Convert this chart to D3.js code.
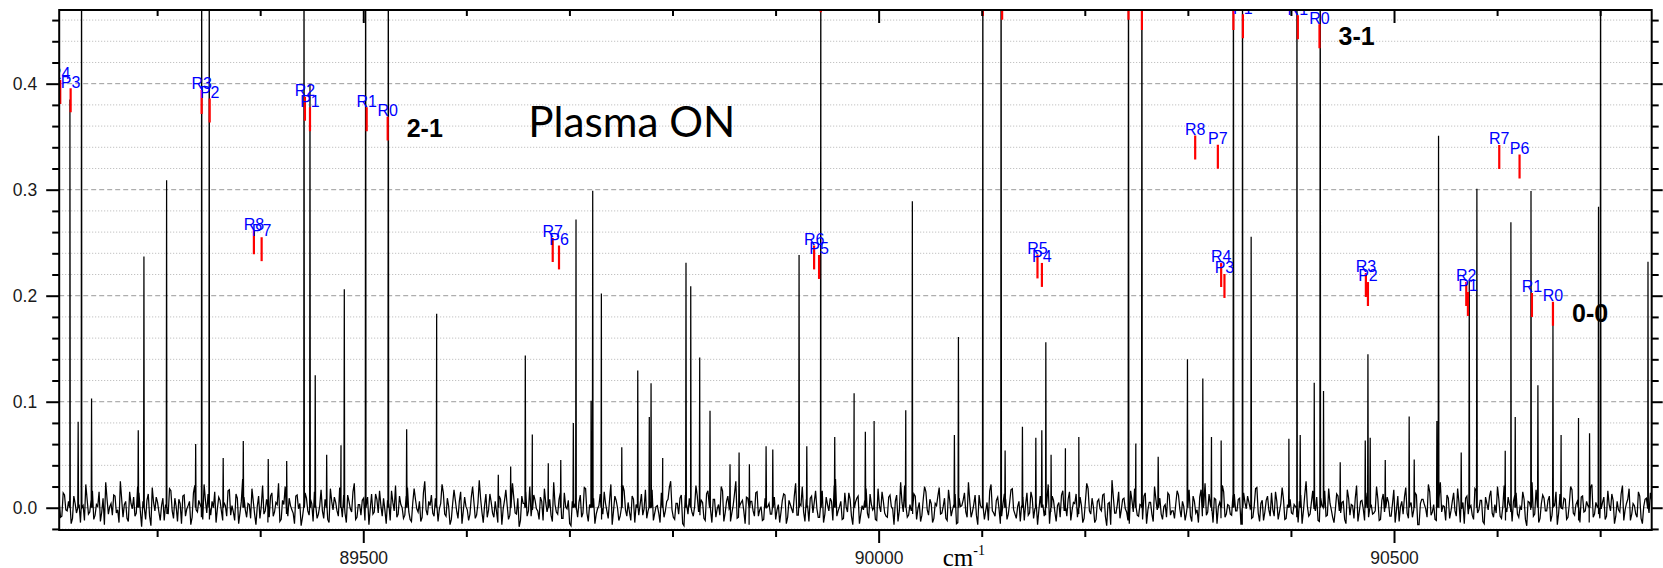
<!DOCTYPE html>
<html><head><meta charset="utf-8">
<script src="https://cdn.jsdelivr.net/npm/d3@7"></script>
<style>body{margin:0;background:#fff}svg{display:block}</style>
</head><body>
<svg id="chart" width="1663" height="568"></svg>
<script>
// ---------- data ----------
const xDomain = [89205, 90750];
const yDomain = [-0.021, 0.4695];
const xMajorTicks = [89500, 90000, 90500];
const xMinorTicks = [89300, 89400, 89600, 89700, 89800, 89900, 90100, 90200, 90300, 90400, 90600, 90700];
const yMajorTicks = [0.0, 0.1, 0.2, 0.3, 0.4];
const yMinorTicks = [-0.02, 0.02, 0.04, 0.06, 0.08, 0.12, 0.14, 0.16, 0.18, 0.22, 0.24, 0.26, 0.28, 0.32, 0.34, 0.36, 0.38, 0.42, 0.44, 0.46];

// spectral peaks: [wavenumber (cm-1), intensity]; 0.6 = off-scale (clipped at top)
const peaks = [
 [89215.4,0.385],[89223.4,0.081],[89226.7,0.6],[89236.4,0.103],[89281.7,0.073],[89287.2,0.237],
 [89309.2,0.309],[89337.4,0.060],[89343.2,0.6],[89350.6,0.6],[89364.1,0.047],[89383.6,0.063],
 [89407.8,0.046],[89425.7,0.044],[89442.5,0.6],[89448.3,0.40],[89453.4,0.125],[89464.5,0.050],
 [89478.4,0.059],[89481.6,0.206],[89502.3,0.6],[89524.3,0.6],[89542.1,0.074],[89571.2,0.183],
 [89631.0,0.031],[89643.0,0.039],[89657.2,0.1435],[89664.0,0.069],[89679.5,0.042],[89691.6,0.045],
 [89703.8,0.080],[89706.4,0.272],[89721.0,0.101],[89722.6,0.299],[89731.0,0.202],[89750.8,0.057],
 [89766.3,0.1295],[89777.5,0.0856],[89779.2,0.1175],[89790.5,0.047],[89813.1,0.231],[89817.7,0.209],
 [89826.4,0.1416],[89836.4,0.0914],[89855.8,0.041],[89864.6,0.052],[89874.6,0.041],[89890.8,0.058],
 [89897.3,0.055],[89922.8,0.2385],[89930.3,0.058],[89943.9,0.6],[89957.4,0.0667],[89976.2,0.108],
 [89987.1,0.0716],[89995.6,0.0817],[90026.3,0.092],[90032.7,0.289],[90073.5,0.0687],[90077.4,0.161],
 [90101.1,0.6],[90118.8,0.6],[90122.7,0.054],[90139.5,0.0765],[90152.5,0.066],[90158.3,0.073],
 [90162.2,0.156],[90167.3,0.050],[90181.2,0.056],[90194.2,0.0667],[90242.4,0.6],[90249.5,0.0605],
 [90255.4,0.6],[90271.2,0.048],[90299.6,0.140],[90314.5,0.122],[90322.9,0.0667],[90332.3,0.0635],
 [90344.2,0.6],[90353.0,0.6],[90361.4,0.2555],[90398.0,0.065],[90405.8,0.6],[90409.0,0.0687],
 [90422.6,0.118],[90428.4,0.6],[90431.6,0.110],[90447.8,0.043],[90472.1,0.0635],[90474.7,0.1448],
 [90476.9,0.066],[90491.5,0.045],[90514.7,0.086],[90519.6,0.0456],[90541.6,0.0817],[90543.2,0.351],
 [90565.2,0.052],[90573.0,0.214],[90580.4,0.301],[90607.9,0.0537],[90613.4,0.2694],[90617.6,0.0856],
 [90632.9,0.2987],[90639.6,0.1155],[90654.2,0.1734],[90662.1,0.0687],[90679.0,0.0846],[90689.7,0.0703],
 [90698.4,0.284],[90700.4,0.6],[90746.4,0.232]
];

// baseline noise, evenly sampled across the x range, in units of 0.001
const noise = [
 5,-8,12,-3,18,-10,4,9,-14,2,22,-6,7,-11,3,15,-4,-16,8,1,
 -7,11,-2,25,-9,6,-13,4,10,-5,14,-18,2,7,-8,19,-3,5,-12,9,
 3,-6,16,-10,1,8,-15,12,-1,6,-9,21,-4,3,-11,7,13,-7,0,-14,
 10,-3,5,-8,17,2,-12,9,-5,27,-2,4,-10,6,-16,11,1,-6,8,-9,
 14,-4,3,-13,7,20,-8,2,-5,11,-1,-17,6,9,-7,4,15,-10,2,-3,
 8,-11,18,-2,5,-8,1,12,-14,6,-4,23,-9,3,7,-12,10,-1,-6,13,
 -5,2,9,-15,4,16,-3,-9,11,0,-7,19,-11,5,8,-4,-13,14,-2,6,
 12,-8,3,-1,22,-6,9,-16,4,7,-10,15,-3,1,-12,10,5,-7,26,-4,
 2,-9,13,-5,6,-14,8,-1,17,-11,3,9,-6,-18,11,4,-8,20,-2,7,
 -3,10,-12,5,1,-7,24,-4,8,-10,14,-1,-15,6,3,-9,12,-5,18,-13,
 4,9,-6,2,-11,15,-3,7,-16,11,0,-8,21,-2,5,-12,8,3,-7,13,
 -1,-10,6,17,-5,2,-14,10,-3,8,25,-9,4,-6,12,-17,3,9,-4,1,
 11,-7,5,-12,16,-2,8,-9,3,20,-13,6,-1,-5,13,-10,2,7,-15,9,
 6,-3,14,-8,1,-11,19,4,-6,10,-2,-14,7,12,-9,3,-5,23,-7,2,
 -4,8,-13,11,5,-1,-9,16,-6,3,9,-12,27,-3,6,-10,1,14,-8,4,
 9,-15,2,7,-5,13,-2,-11,18,-4,6,-8,10,1,-16,12,-3,5,21,-9,
 3,-6,11,-1,-13,8,15,-7,4,-10,2,19,-5,9,-12,6,-2,13,-14,1,
 7,-4,24,-9,3,-7,12,0,-11,5,16,-3,-8,10,-15,4,8,-6,17,-2,
 -10,6,2,-12,14,-5,9,-1,-16,11,3,-7,22,-4,7,-13,5,12,-3,-8,
 15,-2,4,-9,10,-14,6,18,-6,1,-11,8,-3,13,-17,5,26,-5,3,-10,
 8,-1,-12,16,-4,7,-8,2,11,-15,5,-6,20,-2,9,-11,3,14,-7,-3,
 4,12,-9,1,-5,17,-13,6,-2,10,-8,23,-4,3,-14,8,1,-10,15,-6,
 2,-7,13,-3,9,-16,5,11,-1,-9,18,-5,4,-12,7,-2,14,-8,6,-4,
 19,-11,3,8,-6,1,-14,12,-3,25,-8,5,-1,10,-13,2,16,-7,4,-9,
 -2,11,-5,6,-15,9,3,-10,21,-4,7,-12,1,15,-6,-3,8,-11,13,0,
 5,-8,17,-2,-13,6,10,-5,2,-9,14,-16,4,8,-1,22,-7,3,-12,9,
 -4,1,12,-10,6,-3,18,-14,5,9,-6,2,-11,16,-2,7,-15,4,11,-5,
 3,20,-8,1,-12,10,-4,6,14,-9,-2,8,-17,5,24,-6,2,-10,12,-3,
 7,-13,4,15,-5,-1,9,-11,3,17,-7,6,-14,11,-3,2,19,-9,5,-6,
 -1,10,-8,3,13,-15,6,-4,21,-2,8,-12,4,-6,15,-10,1,9,-5,7
];
// intermediate noise samples (half a step after each sample above), units of 0.001
const noiseMid = [
 -9,14,-2,6,-15,11,-5,3,19,-12,8,-4,16,-7,1,-13,9,24,-6,4,
 12,-5,-14,8,3,-10,15,-1,-8,20,-3,6,-11,13,-17,5,10,-4,2,-12,
 -6,18,-3,9,-13,4,11,-8,2,-16,14,-2,7,-9,22,-5,-11,6,15,-1,
 7,-12,2,16,-7,-4,13,-15,6,10,-9,3,18,-6,1,-10,21,-3,-14,11,
 -8,5,23,-11,3,-6,9,-2,-15,12,4,-9,14,-3,8,-13,2,-6,17,-10,
 4,-14,6,10,-3,19,-9,-5,12,-1,15,-11,3,-7,9,2,-16,13,-4,8,
 16,-8,-2,7,-12,5,21,-6,3,-10,11,-4,-13,18,-1,6,-9,25,-7,2,
 -5,9,-13,4,14,-8,1,-11,17,-3,6,-15,10,-2,-6,20,-10,4,9,-14,
 13,-2,5,-9,-4,11,-16,7,2,-7,23,-5,9,-12,4,15,-3,-8,12,-1,
 -11,6,18,-4,8,-13,3,-6,14,-10,1,7,-17,12,-2,5,-9,19,-5,3,
 10,-15,-1,13,-6,4,-10,22,-3,7,-12,2,16,-8,-4,11,-14,6,3,-7,
 17,-3,8,-12,1,-5,14,-9,6,19,-2,-11,4,9,-15,12,-6,2,-8,21,
 -4,7,-10,13,3,-14,8,-1,-7,16,-5,11,-13,2,25,-9,5,-3,10,-16,
 6,-8,15,-2,-12,9,1,-6,18,-11,3,-4,13,-15,7,-1,11,-7,4,20,
 -13,2,9,-5,16,-9,4,-14,10,-3,6,21,-8,1,-11,14,-4,8,-16,5,
 11,-6,-2,18,-10,3,7,-12,2,15,-5,-9,12,-1,6,-13,24,-4,9,-7,
 -3,13,-11,5,-7,20,-2,8,-14,4,11,-6,1,-10,17,-8,3,-15,9,2,
 14,-9,6,-4,12,-16,2,9,-3,-12,22,-5,7,-1,-8,13,-11,5,18,-6,
 1,-13,10,3,-7,15,-10,4,-2,19,-8,6,-15,11,-4,2,-9,16,-3,8,
 -12,5,13,-6,2,-10,23,-3,9,-14,6,-1,12,-8,4,-16,10,-5,15,-2,
 9,-4,-15,7,18,-7,3,-11,14,-2,5,-13,8,20,-6,1,-9,12,-3,-10,
 16,-1,6,-12,4,-8,11,-5,-14,17,2,-7,13,-3,9,-15,5,21,-9,3,
 -6,12,-3,8,-16,14,-1,5,-10,2,19,-13,7,-4,11,-8,-2,15,-11,4,
 8,-10,22,-5,3,-9,6,-15,12,1,-6,16,-3,-12,9,4,-8,18,-2,-14,
 13,-3,5,-11,17,-7,2,9,-13,6,-1,14,-9,3,-5,20,-12,7,-4,10,
 -8,4,-14,11,1,-6,19,-10,5,-2,12,-16,8,3,-9,15,-4,-11,6,24,
 2,-12,9,-3,14,-8,5,-1,-15,11,4,-7,18,-5,7,-13,10,-2,16,-9,
 -5,8,-10,21,-4,3,-13,12,-6,1,15,-11,6,-2,-8,17,-14,4,9,-3,
 11,-7,2,-16,13,-1,8,-9,20,-5,3,-12,10,-4,6,-14,22,-6,1,-10,
 5,-11,16,-3,7,-8,-2,13,-12,4,18,-6,2,-9,11,-15,8,-1,14,-4
];

// assigned rotational lines: name, position (cm-1), marker top intensity
const lineNames = ["R4","P3","R3","P2","R2","P1","R1","R0","R8","P7","R7","P6","R6","P5","R5","P4",
  "R4","P3","R3","P2","R2","P1","R1","R0","R8","P7","R7","P6",
  "R5","R4","P3","R3","P2","R2","P1","R1","R0"];
const linePositions = [89206.0,89216.1,89343.2,89351.0,89443.4,89448.3,89503.3,89523.7,89393.9,89401.4,89683.8,89689.9,89937.4,89942.2,90154.1,90158.4,
  90332.3,90335.5,90472.7,90474.7,90570.1,90571.7,90633.8,90654.2,90307.1,90329.1,90602.1,90621.8,
  89943.9,90101.1,90119.8,90242.4,90255.4,90344.2,90353.4,90406.7,90427.7];
const lineTops = [0.4035,0.3957,0.394,0.386,0.3877,0.3777,0.3777,0.3689,0.2617,0.2552,0.2544,0.2474,0.2474,0.2384,0.2389,0.2309,
  0.2308,0.2205,0.2214,0.2129,0.2129,0.2035,0.2026,0.1943,0.3511,0.3424,0.3422,0.3332,
  0.490,0.4865,0.483,0.483,0.4733,0.4733,0.4655,0.4645,0.456];

// band annotations: text, x (cm-1), baseline (intensity)
const bandTexts = ["2-1","3-1","0-0"];
const bandX = [89542.1, 90446.2, 90672.7];
const bandY = [0.3497, 0.4365, 0.1748];
const titleText = "Plasma ON";
const titleX = 89660.1, titleY = 0.350;
const xLabel = "cm", xLabelSup = "-1";

// ---------- layout / style ----------
const L = 59.2, R = 1651.7, T = 10, B = 530;
const stickLen = 0.0226;
const svg = d3.select("#chart");
const x = d3.scaleLinear().domain(xDomain).range([L, R]);
const y = d3.scaleLinear().domain(yDomain).range([B, T]);
const axisFont = "'Liberation Sans', Arial, sans-serif";

svg.append("defs").append("clipPath").attr("id","plot")
  .append("rect").attr("x",L).attr("y",T).attr("width",R-L).attr("height",B-T);

// grid
const grid = svg.append("g");
grid.selectAll("line.minor").data(yMinorTicks).join("line")
  .attr("x1",L).attr("x2",R).attr("y1",d=>y(d)).attr("y2",d=>y(d))
  .attr("stroke","#b4b4b4").attr("stroke-width",1).attr("stroke-dasharray","1,2");
grid.selectAll("line.major").data(yMajorTicks).join("line")
  .attr("x1",L).attr("x2",R).attr("y1",d=>y(d)).attr("y2",d=>y(d))
  .attr("stroke","#9a9a9a").attr("stroke-width",1).attr("stroke-dasharray","5,3");

// spectrum
const step = (xDomain[1]-xDomain[0])/(noise.length-1);
const pts = noise.map((v,i)=>[xDomain[0]+i*step, v/1000])
  .concat(noiseMid.map((v,i)=>[xDomain[0]+(i+0.5)*step, v/1000]));
peaks.forEach(([w,h])=>{ pts.push([w-0.35,0]); pts.push([w,h]); pts.push([w+0.35,0]); });
pts.sort((a,b)=>a[0]-b[0]);
const plot = svg.append("g").attr("clip-path","url(#plot)");
plot.append("path").datum(pts)
  .attr("d", d3.line().x(d=>x(d[0])).y(d=>y(d[1])))
  .attr("fill","none").attr("stroke","#000").attr("stroke-width",1.25).attr("stroke-linejoin","miter");

// line markers + labels
const lines = lineNames.map((n,i)=>({n, w:linePositions[i], t:lineTops[i]}));
plot.selectAll("line.stick").data(lines).join("line")
  .attr("x1",d=>x(d.w)).attr("x2",d=>x(d.w))
  .attr("y1",d=>y(d.t)).attr("y2",d=>y(d.t-stickLen))
  .attr("stroke","#ff0000").attr("stroke-width",2.2);
plot.selectAll("text.lab").data(lines).join("text")
  .attr("x",d=>x(d.w)).attr("y",d=>y(d.t)-0.7)
  .attr("text-anchor","middle").attr("font-family",axisFont).attr("font-size",16)
  .attr("fill","#0000ff").text(d=>d.n);

// annotations
svg.selectAll("text.band").data(bandTexts).join("text")
  .attr("x",(d,i)=>x(bandX[i])).attr("y",(d,i)=>y(bandY[i]))
  .attr("font-family",axisFont).attr("font-weight","bold").attr("font-size",25)
  .attr("fill","#000").text(d=>d);
svg.append("text").attr("x",x(titleX)).attr("y",y(titleY))
  .attr("font-family","Lato, 'Open Sans', sans-serif").attr("font-size",42)
  .attr("textLength",207).attr("lengthAdjust","spacingAndGlyphs")
  .attr("fill","#000").text(titleText);

// axes
function style(g){ g.select(".domain").remove();
  g.selectAll(".tick line").attr("stroke","#000").attr("stroke-width",2);
  g.selectAll("text").attr("font-family",axisFont).attr("font-size",17.5).attr("fill","#1a1a1a");
  g.attr("font-family",null).attr("font-size",null); }
svg.append("g").attr("transform",`translate(0,${B})`)
  .call(d3.axisBottom(x).tickValues(xMajorTicks).tickSize(13).tickPadding(9).tickFormat(d3.format("d"))).call(style);
svg.append("g").attr("transform",`translate(0,${B})`)
  .call(d3.axisBottom(x).tickValues(xMinorTicks).tickSize(7).tickFormat("")).call(style);
svg.append("g").attr("transform",`translate(0,${T})`)
  .call(d3.axisTop(x).tickValues(xMajorTicks).tickSize(-13).tickFormat("")).call(style);
svg.append("g").attr("transform",`translate(0,${T})`)
  .call(d3.axisTop(x).tickValues(xMinorTicks).tickSize(-6).tickFormat("")).call(style);
svg.append("g").attr("transform",`translate(${L},0)`)
  .call(d3.axisLeft(y).tickValues(yMajorTicks).tickSize(13).tickPadding(9).tickFormat(d3.format(".1f"))).call(style);
svg.append("g").attr("transform",`translate(${L},0)`)
  .call(d3.axisLeft(y).tickValues(yMinorTicks).tickSize(7).tickFormat("")).call(style);
svg.append("g").attr("transform",`translate(${R},0)`)
  .call(d3.axisRight(y).tickValues(yMajorTicks).tickSize(11).tickFormat("")).call(style);
svg.append("g").attr("transform",`translate(${R},0)`)
  .call(d3.axisRight(y).tickValues(yMinorTicks).tickSize(7).tickFormat("")).call(style);

// frame
svg.append("rect").attr("x",L).attr("y",T).attr("width",R-L).attr("height",B-T)
  .attr("fill","none").attr("stroke","#000").attr("stroke-width",2);

// x axis title
const xt = svg.append("text").attr("x",942.7).attr("y",566)
  .attr("font-family","'Liberation Serif','Times New Roman',serif").attr("font-size",25).attr("fill","#000");
xt.append("tspan").text(xLabel);
xt.append("tspan").attr("dy",-11).attr("font-size",14).text(xLabelSup);
</script>
</body></html>
